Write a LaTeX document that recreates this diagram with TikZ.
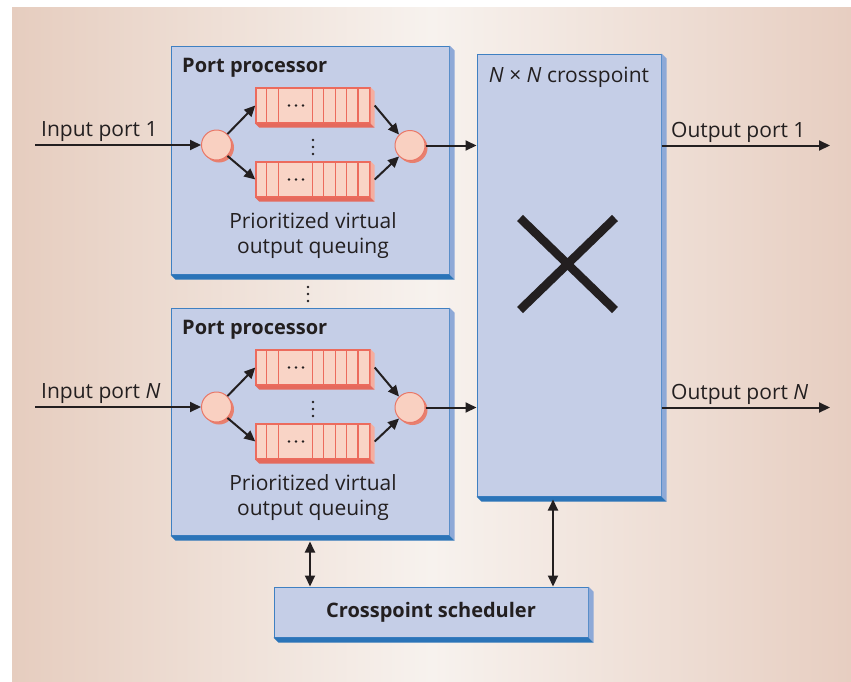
\documentclass[tikz,border=0pt]{standalone}
\usepackage{fontspec}
\setmainfont{Open Sans}
\usetikzlibrary{arrows.meta,calc,shadows}

\definecolor{ink}{HTML}{231F20}
\definecolor{bgedge}{HTML}{E6CDBF}
\definecolor{bgmid}{HTML}{F7F2EE}
\definecolor{bgedgeR}{HTML}{E7CEC1}
\definecolor{panelfill}{HTML}{C5CEE7}
\definecolor{panelline}{HTML}{3F80C2}
\definecolor{panelright}{HTML}{8EA9D7}
\definecolor{panelbottom}{HTML}{2B74B8}
\definecolor{qfill}{HTML}{F9D4C6}
\definecolor{qline}{HTML}{EC6B5D}
\definecolor{qright}{HTML}{F5AE9F}
\definecolor{qbottom}{HTML}{E5695C}
\definecolor{cfill}{HTML}{F9D0C1}
\definecolor{cline}{HTML}{E97767}
\definecolor{cshade}{HTML}{E8806F}

% side and bottom faces of a raised box: node, depth, right colour, bottom colour
\newcommand\slabfaces[4]{%
  \fill[#3] (#1.north east) -- ++(#2,#2) -- ([shift={(#2,#2)}]#1.south east) -- (#1.south east) -- cycle;
  \fill[#4] (#1.south west) -- ++(#2,#2) -- ([shift={(#2,#2)}]#1.south east) -- (#1.south east) -- cycle;}

% a queue of cells: name, centre
\newcommand\queuebox[2]{%
  \node[queue] (#1) at (#2) {};
  \slabfaces{#1}{4}{qright}{qbottom}
  \foreach \cx in {11.4,22.8,57,68.4,79.8,91.2,102.6}
    \draw[qline, line width=1.2pt] ([xshift=\cx pt]#1.north west) -- ([xshift=\cx pt]#1.south west);
  \foreach \cx in {-7,0,7}
    \fill[ink] ([xshift=\cx pt-17pt]#1.center) circle[radius=1.4pt];}

\begin{document}
\begin{tikzpicture}[x=1pt,y=-1pt,
  font=\fontsize{21}{25}\selectfont, text=ink,
  panel/.style={draw=panelline, fill=panelfill, line width=1pt, inner sep=0pt, rectangle},
  queue/.style={draw=qline, fill=qfill, line width=1.4pt, inner sep=0pt, rectangle,
    minimum width=114pt, minimum height=35pt},
  port/.style={circle, draw=cline, fill=cfill, line width=1pt, minimum size=30pt, inner sep=0pt,
    general shadow={fill=cshade, shadow xshift=2.5pt, shadow yshift=-2.5pt}},
  title/.style={anchor=base west, inner sep=0pt, font=\fontsize{20}{24}\selectfont\bfseries},
  label/.style={anchor=base west, inner sep=0pt},
  caption/.style={anchor=north, inner sep=0pt, align=center},
  arrow/.style={draw=ink, line width=2pt, -{Triangle[length=11pt,width=10pt]}},
  dblarrow/.style={draw=ink, line width=2pt, {Triangle[length=11pt,width=10pt]}-{Triangle[length=11pt,width=10pt]}},
]
\useasboundingbox (0,0) rectangle (851,681);
\fill[white] (0,0) rectangle (851,681);
\shade[left color=bgedge, right color=bgedgeR, middle color=bgmid] (12,7) rectangle (851,681);

% port processors
\node[panel, minimum width=278pt, minimum height=228pt] (pp1) at (310,160) {};
\slabfaces{pp1}{5}{panelright}{panelbottom}
\node[panel, minimum width=278pt, minimum height=227pt] (pp2) at (310,421.5) {};
\slabfaces{pp2}{5}{panelright}{panelbottom}

% crosspoint
\node[panel, minimum width=184pt, minimum height=442pt] (xpt) at (569,275) {};
\slabfaces{xpt}{5}{panelright}{panelbottom}
\draw[ink, line width=8.5pt] (520,218) -- (615,310) (615,218) -- (520,310);

% scheduler
\node[panel, minimum width=314pt, minimum height=50pt, font=\fontsize{20}{24}\selectfont\bfseries] (sched) at (431,612) {Crosspoint scheduler};
\slabfaces{sched}{5}{panelright}{panelbottom}

% titles and captions
\node[title] (pp1t) at (182,72) {Port processor};
\node[title] (pp2t) at (182,334) {Port processor};
\node[anchor=base, inner sep=0pt] (xptt) at (569,82) {\textit{N} × \textit{N} crosspoint};
\node[caption] (pp1c) at (313,212) {Prioritized virtual\\output queuing};
\node[caption] (pp2c) at (313,474) {Prioritized virtual\\output queuing};

% queues
\queuebox{q1a}{313,105.5}
\queuebox{q1b}{313,179.5}
\queuebox{q2a}{313,367.5}
\queuebox{q2b}{313,441.5}

% vertical ellipses
\foreach \y in {140,147,154} \fill[ink] (313,\y) circle[radius=1.4pt];
\foreach \y in {402,409,416} \fill[ink] (313,\y) circle[radius=1.4pt];
\foreach \y in {287,294,301} \fill[ink] (308,\y) circle[radius=1.4pt];

% ports
\node[port] (c1in) at (216.5,145) {};
\node[port] (c1out) at (410,145.5) {};
\node[port] (c2in) at (216.5,407) {};
\node[port] (c2out) at (410,407.5) {};

% external lines
\coordinate (in1) at (35,145);
\coordinate (inN) at (35,407);
\coordinate (out1) at (830,145.5);
\coordinate (outN) at (830,407.5);
\node[label] (in1t) at (41,136) {Input port 1};
\node[label] (inNt) at (41,398) {Input port \textit{N}};
\node[label] (out1t) at (671,137) {Output port 1};
\node[label] (outNt) at (671,399) {Output port \textit{N}};

\draw[arrow] (in1) -- (c1in);
\draw[arrow] (inN) -- (c2in);
\draw[arrow] (c1out.east) -- (c1out.east -| xpt.west);
\draw[arrow] (c2out.east) -- (c2out.east -| xpt.west);
\draw[arrow] (out1 -| xpt.east) -- (out1);
\draw[arrow] (outN -| xpt.east) -- (outN);

\draw[arrow] (c1in.45) -- (q1a.west);
\draw[arrow] (c1in.-45) -- (q1b.west);
\draw[arrow] ([xshift=4pt]q1a.east) -- (c1out.135);
\draw[arrow] ([xshift=4pt]q1b.east) -- (c1out.-135);
\draw[arrow] (c2in.45) -- (q2a.west);
\draw[arrow] (c2in.-45) -- (q2b.west);
\draw[arrow] ([xshift=4pt]q2a.east) -- (c2out.135);
\draw[arrow] ([xshift=4pt]q2b.east) -- (c2out.-135);

% scheduler links
\draw[dblarrow] ([yshift=-6pt]pp2.south) -- (pp2.south |- sched.north);
\draw[dblarrow] ([shift={(-16,3)}]xpt.south) -- ([xshift=-16pt]xpt.south |- sched.north);
\end{tikzpicture}
\end{document}
